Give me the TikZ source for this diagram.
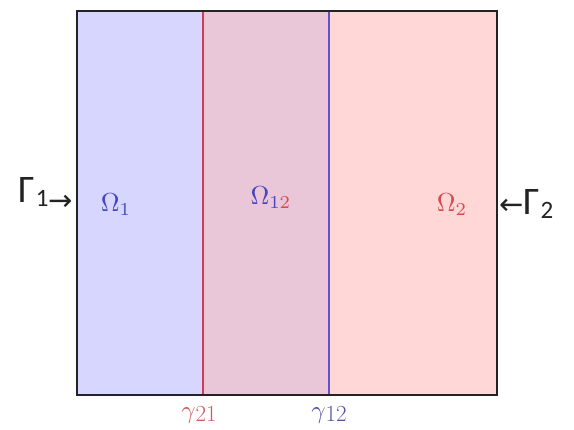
\documentclass[tikz,border=0pt]{standalone}
\usepackage{graphicx}
\usepackage{fontspec}
\newfontfamily\gfont{Carlito}
\newfontfamily\afont{DejaVu Sans}
\definecolor{bluereg}{RGB}{214,214,255}
\definecolor{overreg}{RGB}{233,198,216}
\definecolor{redreg}{RGB}{255,215,215}
\definecolor{redline}{RGB}{205,60,85}
\definecolor{blueline}{RGB}{100,80,205}
\definecolor{omblue}{RGB}{70,70,190}
\definecolor{omred}{RGB}{215,75,80}
\definecolor{gamred}{RGB}{200,95,95}
\definecolor{gamblue}{RGB}{85,85,165}
\definecolor{gtext}{RGB}{35,35,35}
\newcommand{\mygam}[1]{\scalebox{2.5}{$\gamma$}\raisebox{-3pt}{\fontsize{23}{25}\selectfont #1}}
\begin{document}
\begin{tikzpicture}[x=1pt,y=-1pt,
  omlabel/.style={inner sep=0pt,scale=2.6},
  gamlabel/.style={inner sep=0pt},
  bndlabel/.style={inner sep=0pt,text=gtext,font=\gfont\fontsize{39}{41}\selectfont},
  iface/.style={line width=2pt}]
\useasboundingbox (0,0) rectangle (574,430);
\fill[white] (0,0) rectangle (574,430);
% regions
\fill[bluereg] (77,11) rectangle (203,395);
\fill[overreg] (203,11) rectangle (329,395);
\fill[redreg] (329,11) rectangle (497,395);
\draw[redline,iface] (203,11) -- (203,395);
\draw[blueline,iface] (329,11) -- (329,395);
\draw[line width=2pt,draw=gtext] (77,11) rectangle (497,395);
% labels
\node[omlabel,text=omblue,anchor=base] (om1) at (116,212) {$\Omega_1$};
\node[omlabel,anchor=base] (om12) at (271,205) {\color{omblue}$\Omega_{1\color{omred}2}$};
\node[omlabel,text=omred,anchor=base] (om2) at (452,212) {$\Omega_2$};
\node[bndlabel,anchor=base east] (g1) at (73,203) {Γ\hspace{1pt}\raisebox{-4pt}{\fontsize{25}{27}\selectfont 1}\raisebox{-8pt}{\afont\fontsize{29}{31}\selectfont →}};
\node[bndlabel,anchor=base west] (g2) at (499,215) {{\afont\fontsize{29}{31}\selectfont ←}Γ\hspace{1pt}\raisebox{-4pt}{\fontsize{25}{27}\selectfont 2}};
\node[gamlabel,text=gamred,anchor=base] (gm21) at (199,419) {\mygam{21}};
\node[gamlabel,text=gamblue,anchor=base] (gm12) at (329,419) {\mygam{12}};
\end{tikzpicture}
\end{document}
